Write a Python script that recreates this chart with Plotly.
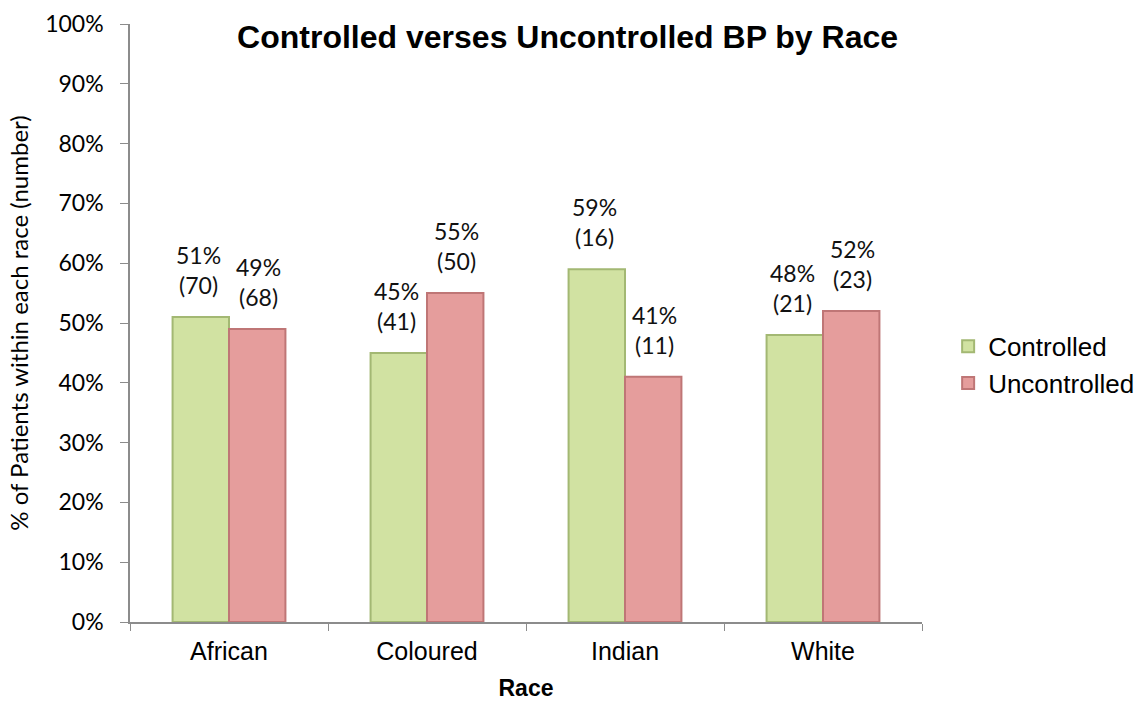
import plotly.graph_objects as go

races = ["African", "Coloured", "Indian", "White"]
controlled_pct = [51, 45, 59, 48]
controlled_n = [70, 41, 16, 21]
uncontrolled_pct = [49, 55, 41, 52]
uncontrolled_n = [68, 50, 11, 23]
y_ticks = list(range(0, 101, 10))

GREEN = "#d1e2a2"
GREEN_EDGE = "#a3b873"
RED = "#e59d9c"
RED_EDGE = "#bf7676"
LABEL_FONT = "Lato, Noto Sans, Liberation Sans"
ARIAL = "Liberation Sans, Arial"

fig = go.Figure()
fig.add_trace(go.Bar(
    name="Controlled", x=races, y=controlled_pct, legendgroup="c",
    marker=dict(color=GREEN, line=dict(color=GREEN_EDGE, width=2)),
))
fig.add_trace(go.Bar(
    name="Uncontrolled", x=races, y=uncontrolled_pct, legendgroup="u",
    marker=dict(color=RED, line=dict(color=RED_EDGE, width=2)),
))

# value labels: percentage over count, sitting above each bar
for pcts, ns, shift in ((controlled_pct, controlled_n, -31), (uncontrolled_pct, uncontrolled_n, 29)):
    for race, p, n in zip(races, pcts, ns):
        fig.add_annotation(
            x=race, y=p, xref="x", yref="y", xshift=shift,
            yshift=16, yanchor="bottom", showarrow=False,
            text=f"{p}%<br>({n})", align="center",
            font=dict(family=LABEL_FONT, size=23, color="#111"),
        )

fig.update_layout(
    width=1142, height=704,
    margin=dict(l=130, r=220, t=24, b=82, autoexpand=False),
    paper_bgcolor="white", plot_bgcolor="white",
    barmode="group", bargap=0.43, bargroupgap=0,
    font=dict(family=ARIAL, size=24, color="#000"),
    title=dict(text="<b>Controlled verses Uncontrolled BP by Race</b>",
               x=0.497, xanchor="center", y=0.948, yanchor="middle",
               font=dict(family=ARIAL, size=32, color="#000")),
    legend=dict(x=1.033, y=0.43, xanchor="left", yanchor="middle",
                font=dict(family=ARIAL, size=26),
                itemwidth=30, traceorder="normal", tracegroupgap=11),
    showlegend=True,
)
fig.update_xaxes(
    title=dict(text="<b>Race</b>", font=dict(family=ARIAL, size=23), standoff=16),
    showline=True, linecolor="#8c8c8c", linewidth=1.5,
    ticks="outside", tickson="boundaries", ticklen=7, tickcolor="#8c8c8c",
    showgrid=False, tickfont=dict(family=ARIAL, size=25),
    ticklabelstandoff=6, automargin=False,
)
fig.update_yaxes(
    title=dict(text="% of Patients within each race (number)",
               font=dict(family=LABEL_FONT, size=24), standoff=10),
    range=[0, 100], tickvals=y_ticks, ticktext=[f"{v}%" for v in y_ticks],
    showline=True, linecolor="#8c8c8c", linewidth=1.5,
    ticks="outside", ticklen=8, tickcolor="#8c8c8c", showgrid=False,
    zeroline=False, tickfont=dict(family=LABEL_FONT, size=23),
    ticklabelstandoff=12, automargin=False,
)

fig.write_html("out.html")
